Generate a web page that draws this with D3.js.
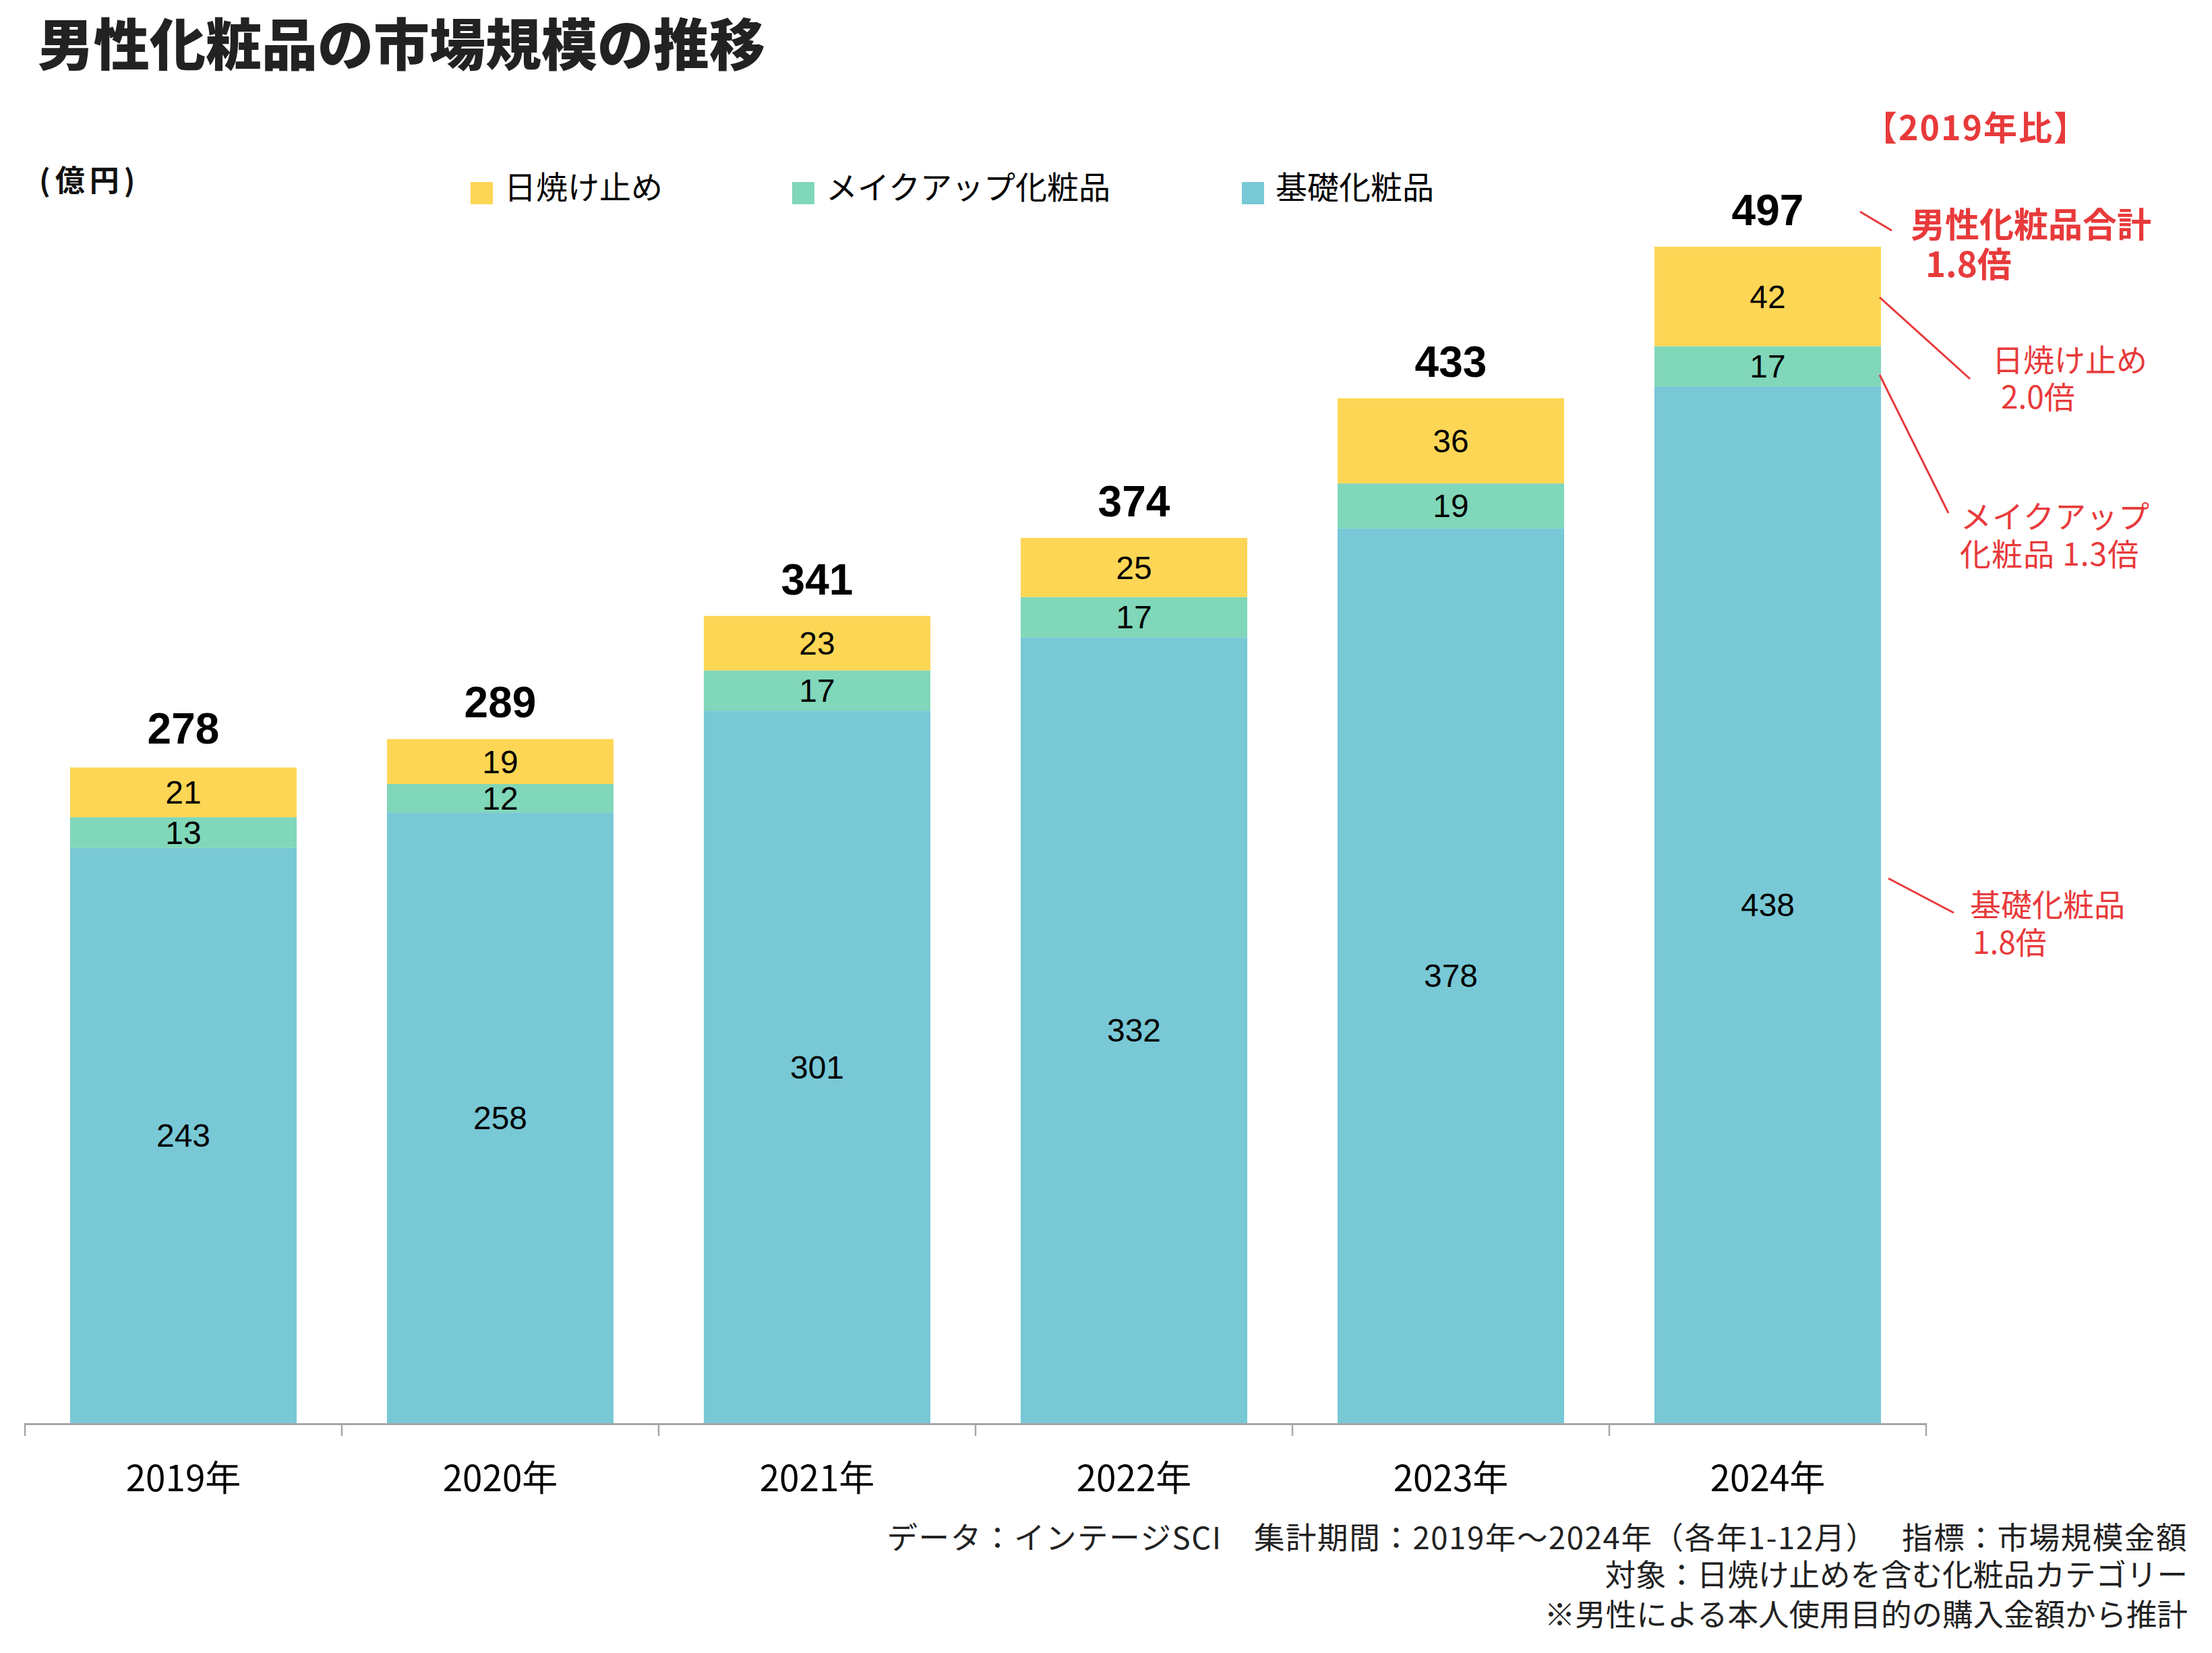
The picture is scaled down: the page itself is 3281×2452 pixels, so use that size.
<!DOCTYPE html>
<html><head><meta charset="utf-8">
<script src="https://cdn.jsdelivr.net/npm/d3@7"></script>
<style>
html,body{margin:0;padding:0;background:#fff;}
svg text{font-family:"Noto Sans CJK JP","Noto Sans",sans-serif;}
</style></head>
<body>
<svg id="chart" width="3281" height="2452"></svg>
<script>
const years = ["2019年","2020年","2021年","2022年","2023年","2024年"];
const sunscreen = [21,19,23,25,36,42];
const makeup = [13,12,17,17,19,17];
const skincare = [243,258,301,332,378,438];
const totals = [278,289,341,374,433,497];
const seriesNames = ["日焼け止め","メイクアップ化粧品","基礎化粧品"];
const seriesColors = ["#FDD655","#80D7B9","#78C8D6"];
const title = "男性化粧品の市場規模の推移";
const unitLabel = "(億円)";
const footer = ["データ：インテージSCI　集計期間：2019年～2024年（各年1-12月）　 指標：市場規模金額",
                "対象：日焼け止めを含む化粧品カテゴリー",
                "※男性による本人使用目的の購入金額から推計"];
const annoHeader = "【2019年比】";
const annoTotal = ["男性化粧品合計","1.8倍"];
const annoSun = ["日焼け止め","2.0倍"];
const annoMake = ["メイクアップ","化粧品 1.3倍"];
const annoSkin = ["基礎化粧品","1.8倍"];

const svg = d3.select("#chart");
const red = "#E83A3B";
const numFont = '"Liberation Sans", Arial, sans-serif';

const x = d3.scaleBand().domain(years).range([37, 2857]).paddingInner(0.285).paddingOuter(0.1425);
const baseY = 2111;
const y = d3.scaleLinear().domain([0, 497]).range([baseY, 366]);

// stacked data
const rows = years.map((yr,i)=>({year:yr, skincare:skincare[i], makeup:makeup[i], sunscreen:sunscreen[i]}));
const stack = d3.stack().keys(["skincare","makeup","sunscreen"]);
const stacked = stack(rows);
const colorByKey = {skincare:seriesColors[2], makeup:seriesColors[1], sunscreen:seriesColors[0]};

const g = svg.append("g");
stacked.forEach(layer=>{
  const lg = g.append("g");
  lg.selectAll("rect").data(layer).join("rect")
    .attr("x", d=>x(d.data.year))
    .attr("width", x.bandwidth())
    .attr("y", d=>y(d[1]))
    .attr("height", d=>y(d[0])-y(d[1]))
    .attr("fill", colorByKey[layer.key]);
  lg.selectAll("text").data(layer).join("text")
    .attr("x", d=>x(d.data.year)+x.bandwidth()/2)
    .attr("y", d=>(y(d[0])+y(d[1]))/2 + 17)
    .attr("text-anchor","middle")
    .style("font-family", numFont)
    .style("font-size","48px")
    .attr("fill","#000")
    .text(d=>d.data[layer.key]);
});

// totals
g.selectAll("text.total").data(years).join("text").attr("class","total")
  .attr("x", d=>x(d)+x.bandwidth()/2)
  .attr("y", (d,i)=>y(totals[i]) - 32)
  .attr("text-anchor","middle")
  .style("font-family", numFont)
  .style("font-size","64px").style("font-weight","bold")
  .attr("fill","#000")
  .text((d,i)=>totals[i]);

// axis
const axisG = svg.append("g");
const [r0, r1] = x.range();
axisG.append("line").attr("x1", r0).attr("x2", r1).attr("y1", baseY+1.5).attr("y2", baseY+1.5)
  .attr("stroke","#A6A6A6").attr("stroke-width",3);
const tickXs = years.map(d=>x(d) - x.step()*x.paddingInner()/2).concat([r1]);
axisG.selectAll("line.tick").data(tickXs).join("line").attr("class","tick")
  .attr("x1",d=>d).attr("x2",d=>d).attr("y1",baseY).attr("y2",baseY+19)
  .attr("stroke","#A6A6A6").attr("stroke-width",2.5);
axisG.selectAll("text").data(years).join("text")
  .attr("x", d=>x(d)+x.bandwidth()/2)
  .attr("y", 2193+19)
  .attr("text-anchor","middle")
  .style("font-size","53px").attr("fill","#000")
  .text(d=>d);

// title
svg.append("text").attr("x",56).attr("y",97)
  .style("font-size","83px").style("font-weight","900").attr("fill","#222")
  .text(title);
svg.append("text").attr("x",58).attr("y",284)
  .style("font-size","44px").style("font-weight","bold").style("letter-spacing","7px").attr("fill","#111")
  .text(unitLabel);

// legend
const legX = [698, 1175, 1842];
seriesNames.forEach((n,i)=>{
  svg.append("rect").attr("x",legX[i]).attr("y",270).attr("width",33).attr("height",33).attr("fill",seriesColors[i]);
  svg.append("text").attr("x",legX[i]+50).attr("y",295)
    .style("font-size","47px").attr("fill","#000").text(n);
});

// annotations (multi-line texts as tspans)
function rtext(lines, size, bold, ls){
  const t = svg.append("text").style("font-size",size+"px")
    .style("font-weight", bold?"bold":"normal").attr("fill",red);
  if(ls) t.style("letter-spacing", ls+"px");
  lines.forEach(l=>{
    t.append("tspan").attr("x", l[0]).attr("y", l[1]).text(l[2]);
  });
}
rtext([[2764, 190+18, annoHeader]], 50, true, 2);
rtext([[2834, 333+19, annoTotal[0]],[2856, 392+19, annoTotal[1]]], 51, true);
rtext([[2955, 534+17, annoSun[0]],[2968, 589+17, annoSun[1]]], 46, false);
rtext([[2908, 766+17, annoMake[0]],[2907, 822+17, annoMake[1]]], 46, false, 1);
rtext([[2922, 1342+17, annoSkin[0]],[2926, 1398+17, annoSkin[1]]], 46, false);

const leaders = [[2759,314,2806,342],[2788,441,2922,562],[2788,556,2890,761],[2801,1303,2898,1354]];
svg.selectAll("line.lead").data(leaders).join("line").attr("class","lead")
  .attr("x1",d=>d[0]).attr("y1",d=>d[1]).attr("x2",d=>d[2]).attr("y2",d=>d[3])
  .attr("stroke",red).attr("stroke-width",3);

// footer
const fy = [2281, 2336, 2395];
const ft = svg.append("text").attr("text-anchor","end")
  .style("font-size","45.5px").attr("fill","#222");
footer.forEach((t,i)=>{
  ft.append("tspan").attr("x",3245).attr("y",fy[i]+17)
    .style("letter-spacing", i===0 ? "1.6px" : "0px").text(t);
});
</script>
</body></html>
